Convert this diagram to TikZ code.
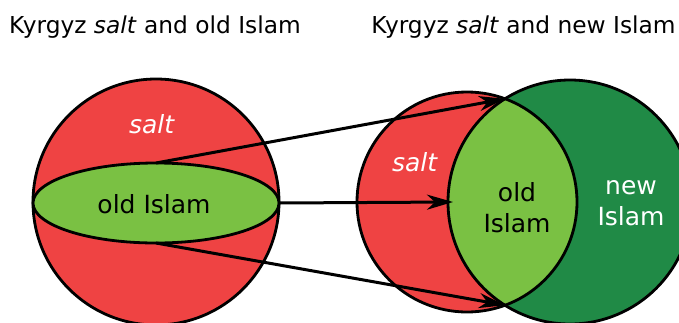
\documentclass[tikz,border=0pt]{standalone}
\usepackage{fontspec}
\setmainfont{DejaVu Sans}
\usetikzlibrary{arrows.meta,shapes.geometric}
\definecolor{saltred}{RGB}{239,67,67}
\definecolor{oldgreen}{RGB}{122,193,67}
\definecolor{newgreen}{RGB}{32,138,70}
\tikzset{
  outline/.style={draw=black, line width=2.8pt},
  ttl/.style={font=\fontsize{23.3}{26}\selectfont, anchor=base},
  lbl/.style={font=\fontsize{25}{31}\selectfont, align=center},
  link/.style={line width=3pt, -{Stealth[length=26pt,width=15pt,inset=8pt]}},
  disk/.style={circle, inner sep=0pt, outer sep=0pt}
}
\begin{document}
\begin{tikzpicture}[x=1pt,y=-1pt]
\useasboundingbox (0,0) rectangle (679,322);
\clip (0,0) rectangle (679,322);
% titles
\node[ttl] (t1) at (155,33) {Kyrgyz \textit{salt} and old Islam};
\node[ttl] (t2) at (523.5,33) {Kyrgyz \textit{salt} and new Islam};
% left
\node[disk, outline, fill=saltred, minimum size=246pt] (L) at (156,202) {};
\node[ellipse, outline, fill=oldgreen, inner sep=0pt, outer sep=0pt, minimum width=246pt, minimum height=80pt] (E) at (156,203) {};
\node[lbl] (eL) at (154,204) {old Islam};
\node[lbl, text=white] (sL) at (152,124) {\textit{salt}};
% right
\node[disk, fill=saltred, minimum size=220pt] (R) at (467,202) {};
\node[disk, fill=newgreen, minimum size=244pt] (G) at (570,202) {};
\begin{scope}
  \clip (467,202) circle (110);
  \fill[oldgreen] (570,202) circle (122);
\end{scope}
\draw[line width=2.8pt] (467,202) circle (110);
\draw[line width=2.8pt] (570,202) circle (122);
\coordinate (itop) at (505,98.8);
\coordinate (ibot) at (505,305.2);
\node[lbl, text=white] (sR) at (415,162) {\textit{salt}};
\node[lbl] (oR) at (517,208) {old\\Islam};
\node[lbl, text=white] (nR) at (631,203) {new\\Islam};
% arrows
\draw[link] (E.north) -- (itop);
\draw[link] (E.east) -- ([xshift=5pt]G.west);
\draw[link] (E.south) -- (ibot);
\end{tikzpicture}
\end{document}
